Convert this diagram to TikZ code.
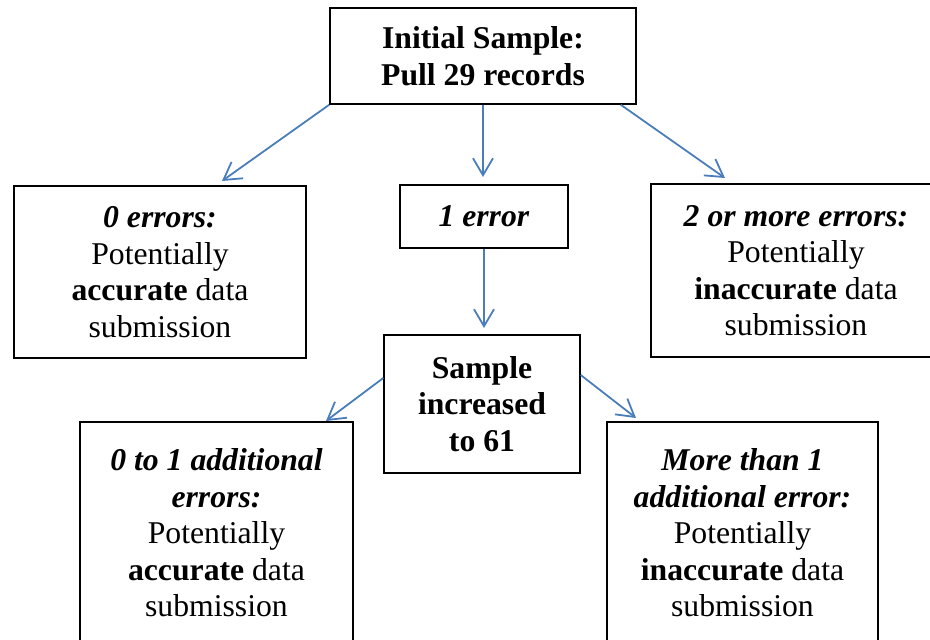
\documentclass[tikz,border=0pt]{standalone}
\usepackage{fontspec}
\setmainfont{Liberation Serif}
\usetikzlibrary{arrows.meta}
\definecolor{flecha}{RGB}{74,126,187}
\tikzset{
  caja/.style={draw=black, line width=1.5pt, align=center, inner sep=0pt,
    font=\fontsize{31.7}{36.5}\selectfont},
  flujo/.style={draw=flecha, line width=1.8pt,
    -{Straight Barb[length=17pt,width=20pt,line width=1.8pt]}}
}
\begin{document}
\begin{tikzpicture}[x=1pt,y=-1pt]
        \useasboundingbox (0,0) rectangle (930,640);
        \clip (0,0) rectangle (930,640);
        \node[caja, minimum width=306pt, minimum height=96pt] (inicio) at (483,56)
          {\textbf{Initial Sample:}\\\textbf{Pull 29 records}};
        \node[caja, minimum width=292pt, minimum height=172pt] (cero) at (160,272)
          {\textbf{\textit{0 errors:}}\\Potentially\\\textbf{accurate} data\\submission};
        \node[caja, minimum width=168pt, minimum height=63pt] (uno) at (484,216.5)
          {\textbf{\textit{1 error}}};
        \node[caja, minimum width=290pt, minimum height=173pt] (dos) at (796,270.5)
          {\textbf{\textit{2 or more errors:}}\\Potentially\\\textbf{inaccurate} data\\submission};
        \node[caja, minimum width=196pt, minimum height=138pt] (muestra) at (482,404)
          {\textbf{Sample}\\\textbf{increased}\\\textbf{to 61}};
        \node[caja, minimum width=273pt, minimum height=222pt] (pocos) at (216.5,533)
          {\textbf{\textit{0 to 1 additional}}\\\textbf{\textit{errors:}}\\Potentially\\\textbf{accurate} data\\submission};
        \node[caja, minimum width=271pt, minimum height=222pt] (muchos) at (742.5,533)
          {\textbf{\textit{More than 1}}\\\textbf{\textit{additional error:}}\\Potentially\\\textbf{inaccurate} data\\submission};
        % Puntas de las flechas
        \coordinate (p1) at (222,181);
        \coordinate (p2) at (483,177);
        \coordinate (p3) at (725,178);
        \coordinate (p4) at (484,328);
        \coordinate (p5) at (326,421);
        \coordinate (p6) at (636,418);
        \draw[flujo] (inicio.south west) -- (p1);
        \draw[flujo] (inicio.south) -- (p2);
        \draw[flujo] ([xshift=-16pt]inicio.south east) -- (p3);
        \draw[flujo] (uno.south) -- (p4);
        \draw[flujo] ([yshift=26pt]muestra.west) -- (p5);
        \draw[flujo] ([yshift=29pt]muestra.east) -- (p6);
    \end{tikzpicture}
\end{document}
